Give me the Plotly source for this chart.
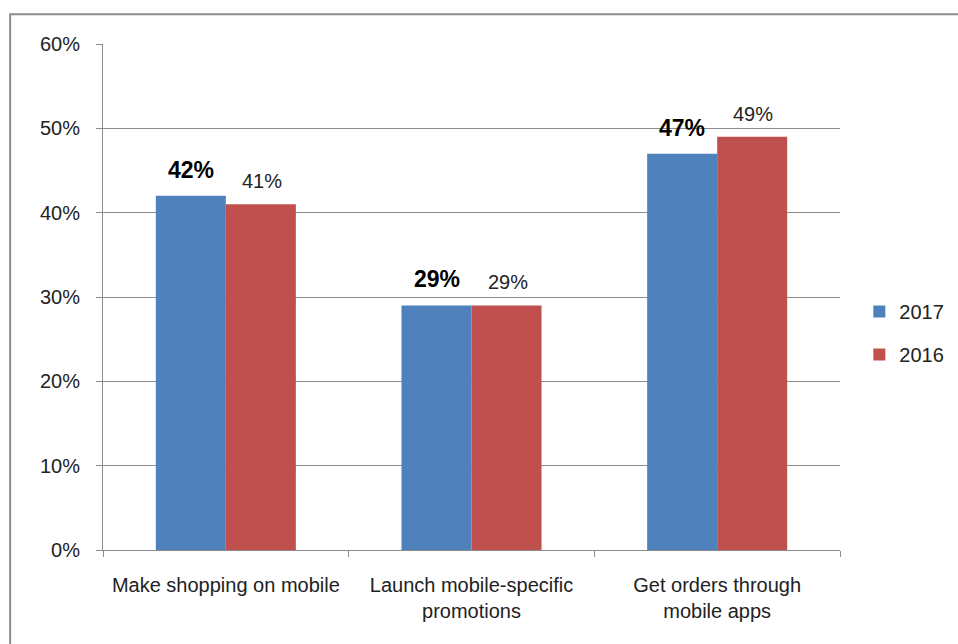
import plotly.graph_objects as go

# Survey results: share of retailers per mobile initiative
categories = ["Make shopping on mobile", "Launch mobile-specific<br>promotions", "Get orders through<br>mobile apps"]
values_2017 = [42, 29, 47]
values_2016 = [41, 29, 49]
y_ticks = [0, 10, 20, 30, 40, 50, 60]
y_tick_labels = ["0%", "10%", "20%", "30%", "40%", "50%", "60%"]

BLUE = "#4F81BD"
RED = "#C0504D"
GRID = "#8C8C8C"
TEXT = "#222222"
FONT = "Liberation Sans, Arial, sans-serif"

fig = go.Figure()
fig.add_trace(go.Bar(name="2017", x=categories, y=values_2017, marker=dict(color=BLUE, line=dict(width=0)),
                     legendgroup="a"))
fig.add_trace(go.Bar(name="2016", x=categories, y=values_2016, marker=dict(color=RED, line=dict(width=0)),
                     legendgroup="b"))

# value labels above the bars (2017 bold, 2016 regular)
annotations = []
for cat, v in zip(categories, values_2017):
    annotations.append(dict(x=cat, y=v, xref="x", yref="y", text=f"<b>{v}%</b>", showarrow=False,
                            xshift=-35, yshift=26, font=dict(size=23, color="#000000", family=FONT)))
for cat, v in zip(categories, values_2016):
    annotations.append(dict(x=cat, y=v, xref="x", yref="y", text=f"{v}%", showarrow=False,
                            xshift=36, yshift=23, font=dict(size=20, color=TEXT, family=FONT)))

fig.update_layout(
    width=958, height=644,
    margin=dict(l=103, r=118, t=44, b=94, autoexpand=False),
    paper_bgcolor="white", plot_bgcolor="white",
    font=dict(family=FONT, size=20, color=TEXT),
    barmode="group", bargap=0.43, bargroupgap=0,
    showlegend=True,
    legend=dict(xref="container", yref="container", x=0.897, y=0.483, xanchor="left", yanchor="middle",
                font=dict(size=20, color=TEXT), traceorder="grouped", tracegroupgap=14, itemwidth=30,
                bgcolor="rgba(0,0,0,0)"),
    annotations=annotations,
    shapes=[dict(type="rect", xref="paper", yref="paper", x0=-0.126, x1=1.3, y0=-0.3, y1=1.059,
                 line=dict(color="#8C8C8C", width=2), fillcolor="rgba(0,0,0,0)", layer="below")],
)
fig.update_xaxes(type="category", showline=True, linecolor=GRID, linewidth=1, ticks="outside",
                 tickson="boundaries", ticklen=6, tickcolor=GRID, showgrid=False,
                 tickfont=dict(size=20, color=TEXT), ticklabelstandoff=17)
fig.update_yaxes(range=[0, 60], tickvals=y_ticks, ticktext=y_tick_labels, showline=True, linecolor=GRID,
                 linewidth=1, ticks="outside", ticklen=6, tickcolor=GRID, showgrid=True, gridcolor=GRID,
                 gridwidth=1, zeroline=False, tickfont=dict(size=20, color=TEXT), ticklabelstandoff=12)

fig.write_html("out.html")
